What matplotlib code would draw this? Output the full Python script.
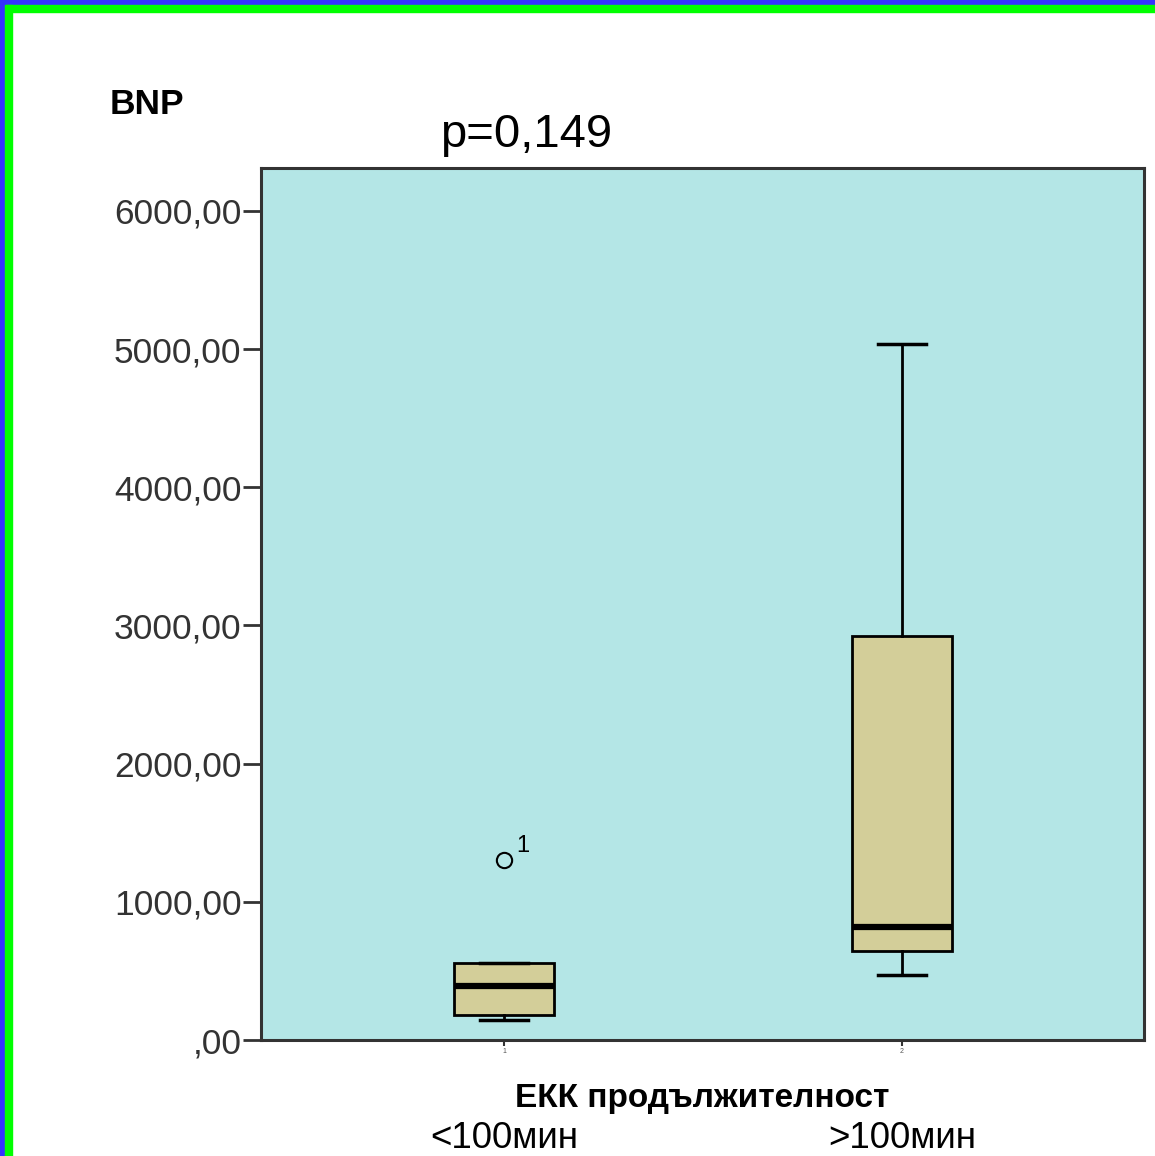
import matplotlib.pyplot as plt
from matplotlib.patches import Rectangle

plt.rcParams.update({'font.family': ['Liberation Sans', 'DejaVu Sans']})

# box statistics (BNP, pg/ml)
groups = ['<100мин', '>100мин']
q1 = [181, 644]
med = [391, 818]
q3 = [557, 2924]
whislo = [145, 470]
whishi = [557, 5037]
outliers = [[1303], []]
outlier_ids = [['1'], []]
yticks = [0, 1000, 2000, 3000, 4000, 5000, 6000]
ytick_labels = [',00', '1000,00', '2000,00', '3000,00', '4000,00', '5000,00', '6000,00']

bg = '#b4e6e6'
boxcol = '#d3ce99'

fig = plt.figure(figsize=(11.55, 11.56), dpi=100)
ax = fig.add_axes([0.226, 0.1003, 0.7645, 0.7544])
ax.set_facecolor(bg)

stats = []
for i in range(len(groups)):
    stats.append({'q1': q1[i], 'med': med[i], 'q3': q3[i],
                  'whislo': whislo[i], 'whishi': whishi[i],
                  'fliers': outliers[i]})

ax.bxp(stats, positions=[1, 2], widths=0.25, capwidths=0.12,
       patch_artist=True, showfliers=True,
       boxprops=dict(facecolor=boxcol, edgecolor='black', linewidth=2),
       medianprops=dict(color='black', linewidth=4.5),
       whiskerprops=dict(color='black', linewidth=2),
       capprops=dict(color='black', linewidth=2.5),
       flierprops=dict(marker='o', markerfacecolor='none',
                       markeredgecolor='black', markersize=11,
                       markeredgewidth=1.5))

for i, (vals, ids) in enumerate(zip(outliers, outlier_ids)):
    for v, lab in zip(vals, ids):
        ax.annotate(lab, (i + 1, v), xytext=(9, 6), textcoords='offset points',
                    fontsize=17, color='black')

ax.set_xlim(0.389, 2.608)
ax.set_ylim(0, 6311)
ax.set_yticks(yticks)
ax.set_yticklabels(ytick_labels, fontsize=25.5, color='#333333')
ax.tick_params(axis='y', length=13, width=2, color='#333333', pad=1)
ax.set_xticks([1, 2])
ax.set_xticklabels(['1', '2'], fontsize=5, color='#555555')
ax.tick_params(axis='x', length=4, width=1.5, color='#333333', pad=2)
for s in ax.spines.values():
    s.set_linewidth(2.2)
    s.set_color('#333333')

ax.set_xlabel('ЕКК продължителност', fontsize=24, fontweight='bold', labelpad=20)

# group labels under the axis title
for i, g in enumerate(groups):
    ax.text(i + 1, -0.124, g, transform=ax.get_xaxis_transform(),
            ha='center', va='baseline', fontsize=26.5)

fig.text(110 / 1155, 1 - 114 / 1156, 'BNP', fontsize=25.5, fontweight='bold')
fig.text(440 / 1155, 1 - 147 / 1156, 'p=0,149', fontsize=34)

# coloured frame lines on top and left edge
W, H = 1155, 1156
fig.patches.append(Rectangle((0, 1 - 5 / H), 1, 5 / H, transform=fig.transFigure,
                             color='#3333ff', zorder=5))
fig.patches.append(Rectangle((5 / W, 1 - 12 / H), 1, 7 / H, transform=fig.transFigure,
                             color='#00ff00', zorder=5))
fig.patches.append(Rectangle((0, 0), 5 / W, 1, transform=fig.transFigure,
                             color='#3333ff', zorder=5))
fig.patches.append(Rectangle((5 / W, 0), 7 / W, 1 - 5 / H, transform=fig.transFigure,
                             color='#00ff00', zorder=5))

fig.savefig('out.png', dpi=100)
